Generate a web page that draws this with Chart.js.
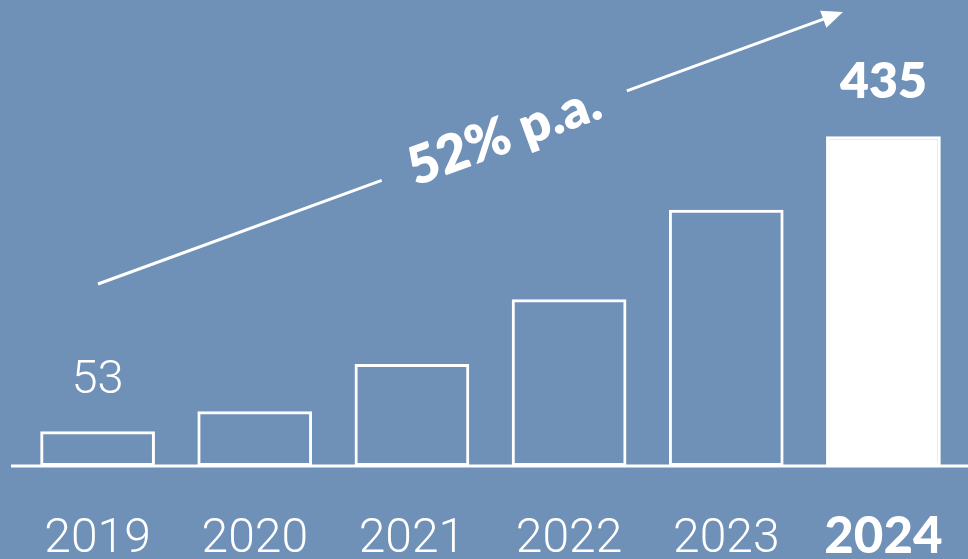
<!DOCTYPE html>
<html>
<head>
<meta charset="utf-8">
<script src="https://cdn.jsdelivr.net/npm/chart.js@4.4.1/dist/chart.umd.min.js"></script>
<style>
  html, body { margin: 0; padding: 0; background: #6f90b7; }
  #wrap { width: 968px; height: 559px; position: relative; }
</style>
</head>
<body>
<div id="wrap"><canvas id="growthChart"></canvas></div>
<script>
// Données
const years = ['2019', '2020', '2021', '2022', '2023', '2024'];
const values = [53, 79, 140, 224, 340, 435];
const valueLabels = ['53', '', '', '', '', '435'];
const growthLabel = '52% p.a.';

const BG = '#6f90b7';
const WHITE = '#ffffff';
const Y_MIN = 8;   // la base de l'axe dans le graphique d'origine
const Y_MAX = 600;

// Fond bleu + ligne de base qui dépasse la zone du graphique
const backgroundPlugin = {
    id: 'bgFill',
    beforeDraw(chart) {
        const c = chart.ctx;
        c.save();
        c.fillStyle = BG;
        c.fillRect(0, 0, chart.width, chart.height);
        c.restore();
    },
    afterDatasetsDraw(chart) {
        const c = chart.ctx;
        const y = chart.scales.y.getPixelForValue(Y_MIN);
        c.save();
        c.strokeStyle = WHITE;
        c.lineWidth = 3;
        c.beginPath();
        c.moveTo(11, y);
        c.lineTo(chart.width, y);
        c.stroke();
        c.restore();
    }
};

// Valeurs au-dessus des barres (2019 et 2024 seulement)
const valueLabelPlugin = {
    id: 'valueLabels',
    afterDatasetsDraw(chart) {
        const c = chart.ctx;
        const meta = chart.getDatasetMeta(0);
        c.save();
        c.fillStyle = WHITE;
        c.textAlign = 'center';
        c.textBaseline = 'alphabetic';
        meta.data.forEach((bar, i) => {
            if (!valueLabels[i]) return;
            const last = i === years.length - 1;
            c.font = last ? '800 50px Lato' : '300 47px Roboto';
            c.fillText(valueLabels[i], bar.x, bar.y - 38);
        });
        c.restore();
    }
};

// Flèche de croissance avec le texte incliné
const arrowPlugin = {
    id: 'growthArrow',
    afterDraw(chart) {
        const c = chart.ctx;
        const x0 = 98, y0 = 284, x1 = 843, y1 = 12;
        const ang = Math.atan2(y1 - y0, x1 - x0);
        const len = Math.hypot(x1 - x0, y1 - y0);
        const gapStart = 302, gapEnd = 563;
        c.save();
        c.translate(x0, y0);
        c.rotate(ang);
        c.strokeStyle = WHITE;
        c.fillStyle = WHITE;
        c.lineWidth = 3;
        c.beginPath();
        c.moveTo(0, 0);
        c.lineTo(gapStart, 0);
        c.moveTo(gapEnd, 0);
        c.lineTo(len - 12, 0);
        c.stroke();
        // pointe
        c.beginPath();
        c.moveTo(len, 0);
        c.lineTo(len - 21, -9);
        c.lineTo(len - 21, 9);
        c.closePath();
        c.fill();
        // texte
        c.font = '800 53px Lato';
        c.textAlign = 'center';
        c.textBaseline = 'middle';
        c.fillText(growthLabel, (gapStart + gapEnd) / 2, 0);
        c.restore();
    }
};

const ctx = document.getElementById('growthChart').getContext('2d');
new Chart(ctx, {
    type: 'bar',
    data: {
        labels: years,
        datasets: [{
            data: values,
            base: Y_MIN,
            backgroundColor: values.map((v, i) => i === values.length - 1 ? WHITE : 'rgba(0,0,0,0)'),
            borderColor: WHITE,
            borderWidth: 3,
            borderSkipped: false,
            barPercentage: 0.73,
            categoryPercentage: 1.0
        }]
    },
    options: {
        responsive: true,
        maintainAspectRatio: false,
        animation: false,
        layout: { padding: { left: 19, right: 6, top: 9, bottom: 0 } },
        plugins: {
            legend: { display: false },
            tooltip: { enabled: false }
        },
        scales: {
            x: {
                grid: { display: false, drawTicks: false },
                border: { display: false },
                afterFit: (scale) => {
                    // hauteur fixe et pas de marge latérale ajoutée par les étiquettes
                    scale.height = 93;
                    scale.paddingLeft = 0;
                    scale.paddingRight = 0;
                },
                ticks: {
                    color: WHITE,
                    padding: 45,
                    font: (c) => c.index === years.length - 1
                        ? { family: 'Lato', weight: '900', size: 51, lineHeight: 1.0 }
                        : { family: 'Roboto', weight: '300', size: 48 }
                }
            },
            y: {
                display: false,
                min: Y_MIN,
                max: Y_MAX
            }
        }
    },
    plugins: [backgroundPlugin, valueLabelPlugin, arrowPlugin]
});
</script>
</body>
</html>
